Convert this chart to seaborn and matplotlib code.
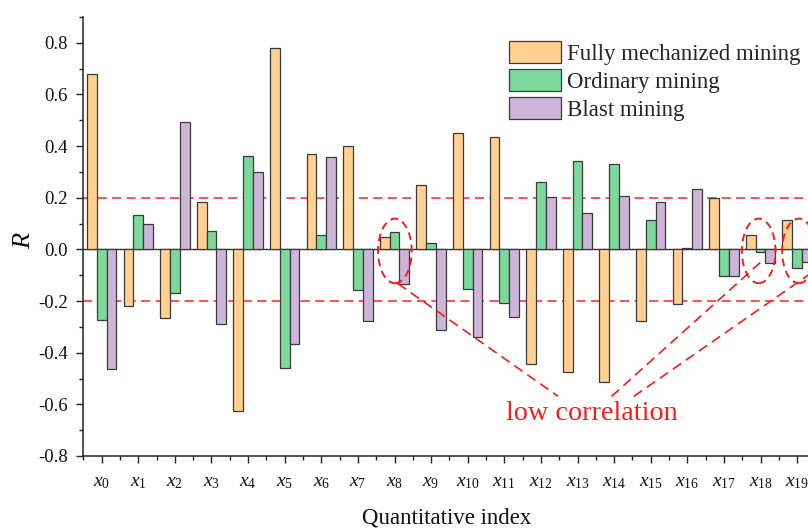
import pandas as pd
import seaborn as sns
import matplotlib.pyplot as plt
from matplotlib.patches import Ellipse
from matplotlib.ticker import MultipleLocator, FixedLocator

# quantitative indexes x0..x19
indexes = ["x%d" % i for i in range(20)]
tick_labels = [r"$x_{%d}$" % i for i in range(20)]
methods = ["Fully mechanized mining", "Ordinary mining", "Blast mining"]
colors = ["#FFD08F", "#7DD99B", "#CDB5DA"]

fully = [0.680, -0.221, -0.265, 0.184, -0.627, 0.778, 0.369, 0.402, 0.048, 0.248,
         0.449, 0.437, -0.443, -0.473, -0.514, -0.277, -0.210, 0.200, 0.054, 0.113]
ordinary = [-0.272, 0.132, -0.168, 0.071, 0.362, -0.458, 0.054, -0.159, 0.068, 0.026,
            -0.153, -0.207, 0.259, 0.344, 0.330, 0.113, 0.005, -0.104, -0.009, -0.073]
blast = [-0.465, 0.098, 0.492, -0.290, 0.299, -0.366, 0.357, -0.277, -0.134, -0.313,
         -0.338, -0.262, 0.204, 0.141, 0.208, 0.185, 0.235, -0.104, -0.054, -0.048]
yticks = [-0.8, -0.6, -0.4, -0.2, 0.0, 0.2, 0.4, 0.6, 0.8]

df = pd.DataFrame({
    "index": indexes * 3,
    "R": fully + ordinary + blast,
    "method": [methods[0]] * 20 + [methods[1]] * 20 + [methods[2]] * 20,
})

sns.set_style("ticks")
plt.rcParams['font.family'] = ['Liberation Serif', 'DejaVu Serif']
plt.rcParams['mathtext.fontset'] = 'custom'
plt.rcParams['mathtext.rm'] = 'Liberation Serif'
plt.rcParams['mathtext.it'] = 'Liberation Serif:italic'
plt.rcParams['axes.unicode_minus'] = False

fig = plt.figure(figsize=(8.08, 5.29), dpi=100)
ax = fig.add_axes([0.1032, 0.138, 0.906, 0.830])

# reference lines first so the bars sit on top
ax.axhline(0.2, color="#FF2222", lw=1.1, ls=(0, (6, 3.5)), zorder=0.5)
ax.axhline(-0.2, color="#FF2222", lw=1.1, ls=(0, (6, 3.5)), zorder=0.5)
ax.axhline(0, color="#333333", lw=1.0, zorder=0.6)

sns.barplot(data=df, x="index", y="R", hue="method", hue_order=methods,
            palette=colors, saturation=1, width=0.8, errorbar=None,
            edgecolor="#3a3a3a", linewidth=0.9, ax=ax)

ax.set_xlim(-0.5, 19.5)
ax.set_ylim(-0.8, 0.9)
ax.yaxis.set_major_locator(FixedLocator(yticks))
ax.yaxis.set_minor_locator(MultipleLocator(0.1))
ax.set_yticklabels(["%.1f" % v for v in yticks])
ax.set_xticks(range(20))
ax.set_xticklabels(tick_labels)
ax.xaxis.set_minor_locator(FixedLocator([i + 0.5 for i in range(-1, 20)]))

ax.tick_params(axis='both', which='major', direction='out', length=5, width=1.0,
               color="#222222", labelcolor="#111111")
ax.tick_params(axis='both', which='minor', direction='out', length=3, width=1.0,
               color="#222222")
ax.tick_params(axis='y', which='major', pad=6, labelsize=13.5)
ax.tick_params(axis='x', which='major', pad=8, labelsize=14)

for s in ["top", "right"]:
    ax.spines[s].set_visible(False)
for s in ["left", "bottom"]:
    ax.spines[s].set_linewidth(1.1)
    ax.spines[s].set_color("#222222")

ax.set_xlabel("Quantitative index", fontsize=16.5, color="#111111")
ax.xaxis.set_label_coords(0.4967, -0.117)
ax.xaxis.label.set_va("top")
ax.set_ylabel("R", fontsize=19, fontstyle="italic", color="#111111")
ax.yaxis.set_label_coords(-0.066, 0.49)

ax.legend(loc="upper left", bbox_to_anchor=(509 / 808, 1 - 41 / 529),
          bbox_transform=fig.transFigure, frameon=False, fontsize=16.5,
          handlelength=2.27, handleheight=1.08, labelspacing=0.2,
          handletextpad=0.28, borderpad=0, borderaxespad=0)

# low correlation marks
red = "#FF1A1A"
for cx in [8.01, 17.95, 19.05]:
    ax.add_patch(Ellipse((cx, -0.006), 0.92, 0.25, fill=False, edgecolor=red,
                         lw=1.4, ls=(0, (4, 2.5)), clip_on=False, zorder=5))
ax.plot([8.09, 12.47], [-0.132, -0.569], color=red, lw=1.2, ls=(0, (6, 3.5)), clip_on=False)
ax.plot([13.93, 18.04], [-0.569, -0.045], color=red, lw=1.2, ls=(0, (6, 3.5)), clip_on=False)
ax.plot([14.54, 19.45], [-0.569, -0.085], color=red, lw=1.2, ls=(0, (6, 3.5)), clip_on=False)
ax.text(13.40, -0.659, "low correlation", color=red, fontsize=20.3, ha="center", va="baseline")

plt.savefig("out.png", dpi=100)
